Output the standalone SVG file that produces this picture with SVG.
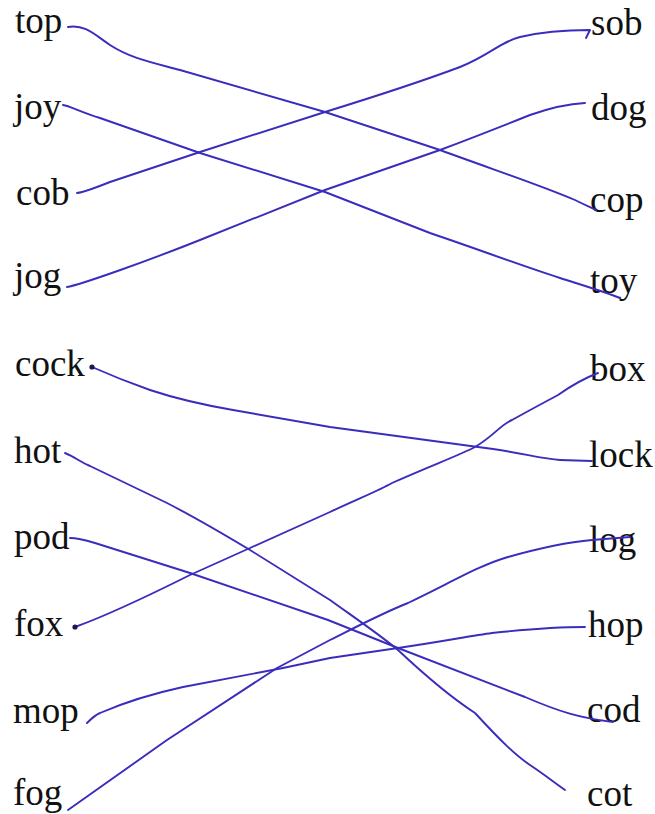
<svg xmlns="http://www.w3.org/2000/svg" width="655" height="814" viewBox="0 0 655 814">
<style>
text{font-family:"Liberation Serif","Times New Roman",serif;font-size:37px;fill:#111}
.ln{fill:none;stroke:#3a2cbc;stroke-width:1.9;stroke-linecap:round;stroke-linejoin:round}
.dot{fill:#1d1850}
</style>
<rect width="655" height="814" fill="#ffffff"/>
<g id="left-top"><text x="15" y="33">top</text></g>
<g id="left-joy"><text x="14" y="119">joy</text></g>
<g id="left-cob"><text x="16" y="205">cob</text></g>
<g id="left-jog"><text x="14" y="288">jog</text></g>
<g id="left-cock"><text x="15" y="376">cock</text></g>
<g id="left-hot"><text x="14" y="463">hot</text></g>
<g id="left-pod"><text x="14" y="549">pod</text></g>
<g id="left-fox"><text x="14" y="636">fox</text></g>
<g id="left-mop"><text x="13" y="723">mop</text></g>
<g id="left-fog"><text x="13" y="805">fog</text></g>
<g id="right-sob"><text x="591" y="35">sob</text></g>
<g id="right-dog"><text x="591" y="120">dog</text></g>
<g id="right-cop"><text x="590" y="212">cop</text></g>
<g id="right-toy"><text x="590" y="293">toy</text></g>
<g id="right-box"><text x="590" y="381">box</text></g>
<g id="right-lock"><text x="589" y="467">lock</text></g>
<g id="right-log"><text x="589" y="552">log</text></g>
<g id="right-hop"><text x="588" y="637">hop</text></g>
<g id="right-cod"><text x="587" y="722">cod</text></g>
<g id="right-cot"><text x="587" y="806">cot</text></g>
<g id="connectors">
<path class="ln" d="M68,27 C85,24 95,35 110,45 C130,58 150,62 180,70 L325,112 L440,150 C500,172 540,185 575,200 C585,205 592,208 596,210"/>
<path class="ln" d="M63,105 C70,106 80,112 100,118 L200,153 L325,192 L430,233 C480,250 520,265 560,278 C585,286 605,292 620,298"/>
<path class="ln" d="M77,193 C85,192 95,188 110,182 L200,152 L325,112 C380,95 420,82 460,67 C490,55 500,42 520,37 C545,31 570,30 590,30 L586,38"/>
<path class="ln" d="M67,287 C80,285 150,260 200,240 L325,190 L440,150 C480,135 510,123 530,115 C550,108 565,104 585,103"/>
<path class="ln" d="M92,367 C110,375 130,383 150,390 C180,400 210,406 233,410 L330,427 L478,447 C520,452 540,459 560,460 L592,461"/>
<circle class="dot" cx="92" cy="367" r="2.6"/>
<path class="ln" d="M65,453 C75,457 80,462 90,466 L167,503 C200,520 225,535 250,550 L330,600 C355,618 380,635 398,650 C430,680 455,700 475,713 C500,740 515,755 530,765 C545,775 555,783 565,790"/>
<path class="ln" d="M70,538 C78,538 85,540 95,543 L190,573 L328,620 L398,648 C450,668 500,687 525,697 C560,712 580,718 613,722"/>
<path class="ln" d="M75,627 C100,618 150,595 190,575 L250,548 L330,512 C360,498 380,490 392,483 C430,466 460,455 475,447 C495,435 500,425 512,420 C530,410 545,402 558,395 C575,383 585,378 598,373"/>
<circle class="dot" cx="75" cy="627" r="2.6"/>
<path class="ln" d="M87,723 C92,718 95,715 100,713 C130,700 160,692 183,687 L283,668 L330,658 L398,648 C440,642 470,636 492,633 C530,629 560,627 585,627"/>
<path class="ln" d="M68,810 L167,740 L277,668 L330,640 C360,625 385,612 408,603 C450,583 480,565 508,557 C540,548 570,542 592,540 L630,537"/>
</g>
</svg>
